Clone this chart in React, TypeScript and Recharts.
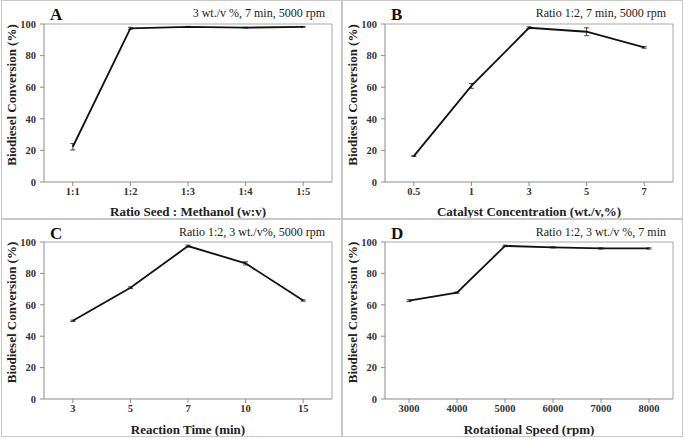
import { LineChart, Line, XAxis, YAxis, ErrorBar, CartesianGrid } from 'recharts';

const ratioLabels = ['1:1', '1:2', '1:3', '1:4', '1:5'];
const ratioConv = [22.3, 97.3, 98.2, 97.7, 98.2];
const ratioErr = [2, 0.6, 0.3, 0.3, 0.3];

const catalystLabels = ['0.5', '1', '3', '5', '7'];
const catalystConv = [16.4, 60.8, 97.6, 95.1, 85.2];
const catalystErr = [0.3, 1.5, 0.6, 2.5, 0.5];

const timeLabels = ['3', '5', '7', '10', '15'];
const timeConv = [49.8, 70.9, 97.4, 86.4, 62.7];
const timeErr = [0.4, 0.5, 0.6, 1, 0.4];

const speedLabels = ['3000', '4000', '5000', '6000', '7000', '8000'];
const speedConv = [62.6, 67.8, 97.5, 96.6, 95.9, 95.9];
const speedErr = [0.6, 0.4, 0.5, 0.4, 0.4, 0.4];

const yTicks = [0, 20, 40, 60, 80, 100];

const toRows = (labels: string[], conv: number[], err: number[]) =>
  labels.map((name, i) => ({ name, conv: conv[i], err: err[i] }));

const FONT = '"Liberation Serif", "DejaVu Serif", serif';
const AXIS = '#8c8c8c';

type PanelProps = {
  left: number;
  top: number;
  w: number;
  h: number;
  letter: string;
  subtitle: string;
  xTitle: string;
  rows: { name: string; conv: number; err: number }[];
  padX: number;
  marginTop: number;
  xHeight: number;
};

function Panel({ left, top, w, h, letter, subtitle, xTitle, rows, padX, marginTop, xHeight }: PanelProps) {
  const cw = w - 2;
  const ch = h - 2;
  return (
    <div
      style={{
        position: 'absolute',
        left,
        top,
        width: w,
        height: h,
        boxSizing: 'border-box',
        border: '1px solid #c8c8c8',
        fontFamily: FONT,
      }}
    >
      <LineChart
        width={cw}
        height={ch}
        data={rows}
        margin={{ top: marginTop, right: 9, bottom: 0, left: 0 }}
        style={{ fontFamily: FONT }}
      >
        {/* top + right edge of the plot frame */}
        <CartesianGrid
          stroke="#a8a8a8"
          horizontalCoordinatesGenerator={({ offset }: any) => [offset.top]}
          verticalCoordinatesGenerator={({ offset }: any) => [offset.left + offset.width]}
        />
        <XAxis
          dataKey="name"
          padding={{ left: padX, right: padX }}
          height={xHeight}
          stroke={AXIS}
          tickSize={4}
          tickMargin={2}
          tick={{ fill: '#333', fontSize: 10.5, fontWeight: 'bold' }}
          interval={0}
          label={{
            value: xTitle,
            position: 'insideBottom',
            offset: 2,
            fill: '#222',
            fontSize: 13,
            fontWeight: 'bold',
          }}
        />
        <YAxis
          domain={[0, 100]}
          ticks={yTicks}
          width={42}
          stroke={AXIS}
          tickSize={4}
          tickMargin={4}
          tick={{ fill: '#333', fontSize: 10.5, fontWeight: 'bold' }}
          label={{
            value: 'Biodiesel Conversion (%)',
            angle: -90,
            position: 'center',
            dx: -12,
            dy: -8,
            fill: '#222',
            fontSize: 13,
            fontWeight: 'bold',
          }}
        />
        <Line
          type="linear"
          dataKey="conv"
          stroke="#111"
          strokeWidth={1.8}
          dot={false}
          isAnimationActive={false}
        >
          <ErrorBar dataKey="err" width={2.5} stroke="#444" strokeWidth={1} direction="y" />
        </Line>
      </LineChart>
      <div
        style={{
          position: 'absolute',
          left: 48,
          top: 5,
          fontSize: 17,
          lineHeight: '17px',
          fontWeight: 'bold',
          color: '#111',
        }}
      >
        {letter}
      </div>
      <div
        style={{
          position: 'absolute',
          right: 16,
          top: 5,
          fontSize: 12,
          lineHeight: '14px',
          color: '#222',
          whiteSpace: 'nowrap',
        }}
      >
        {subtitle}
      </div>
    </div>
  );
}

export default function App() {
  return (
    <div style={{ position: 'absolute', left: 0, top: 0, width: 685, height: 439, background: '#fff' }}>
      <Panel
        left={1}
        top={0}
        w={341}
        h={219}
        letter="A"
        subtitle="3 wt./v %, 7 min, 5000 rpm"
        xTitle="Ratio Seed : Methanol (w:v)"
        rows={toRows(ratioLabels, ratioConv, ratioErr)}
        padX={28.8}
        marginTop={23}
        xHeight={36}
      />
      <Panel
        left={342}
        top={0}
        w={341}
        h={219}
        letter="B"
        subtitle="Ratio 1:2, 7 min, 5000 rpm"
        xTitle="Catalyst Concentration (wt./v,%)"
        rows={toRows(catalystLabels, catalystConv, catalystErr)}
        padX={28.8}
        marginTop={23}
        xHeight={36}
      />
      <Panel
        left={1}
        top={219}
        w={341}
        h={218}
        letter="C"
        subtitle="Ratio 1:2, 3 wt./v%, 5000 rpm"
        xTitle="Reaction Time (min)"
        rows={toRows(timeLabels, timeConv, timeErr)}
        padX={28.8}
        marginTop={22}
        xHeight={37}
      />
      <Panel
        left={342}
        top={219}
        w={341}
        h={218}
        letter="D"
        subtitle="Ratio 1:2, 3 wt./v %, 7 min"
        xTitle="Rotational Speed (rpm)"
        rows={toRows(speedLabels, speedConv, speedErr)}
        padX={24}
        marginTop={22}
        xHeight={37}
      />
    </div>
  );
}
